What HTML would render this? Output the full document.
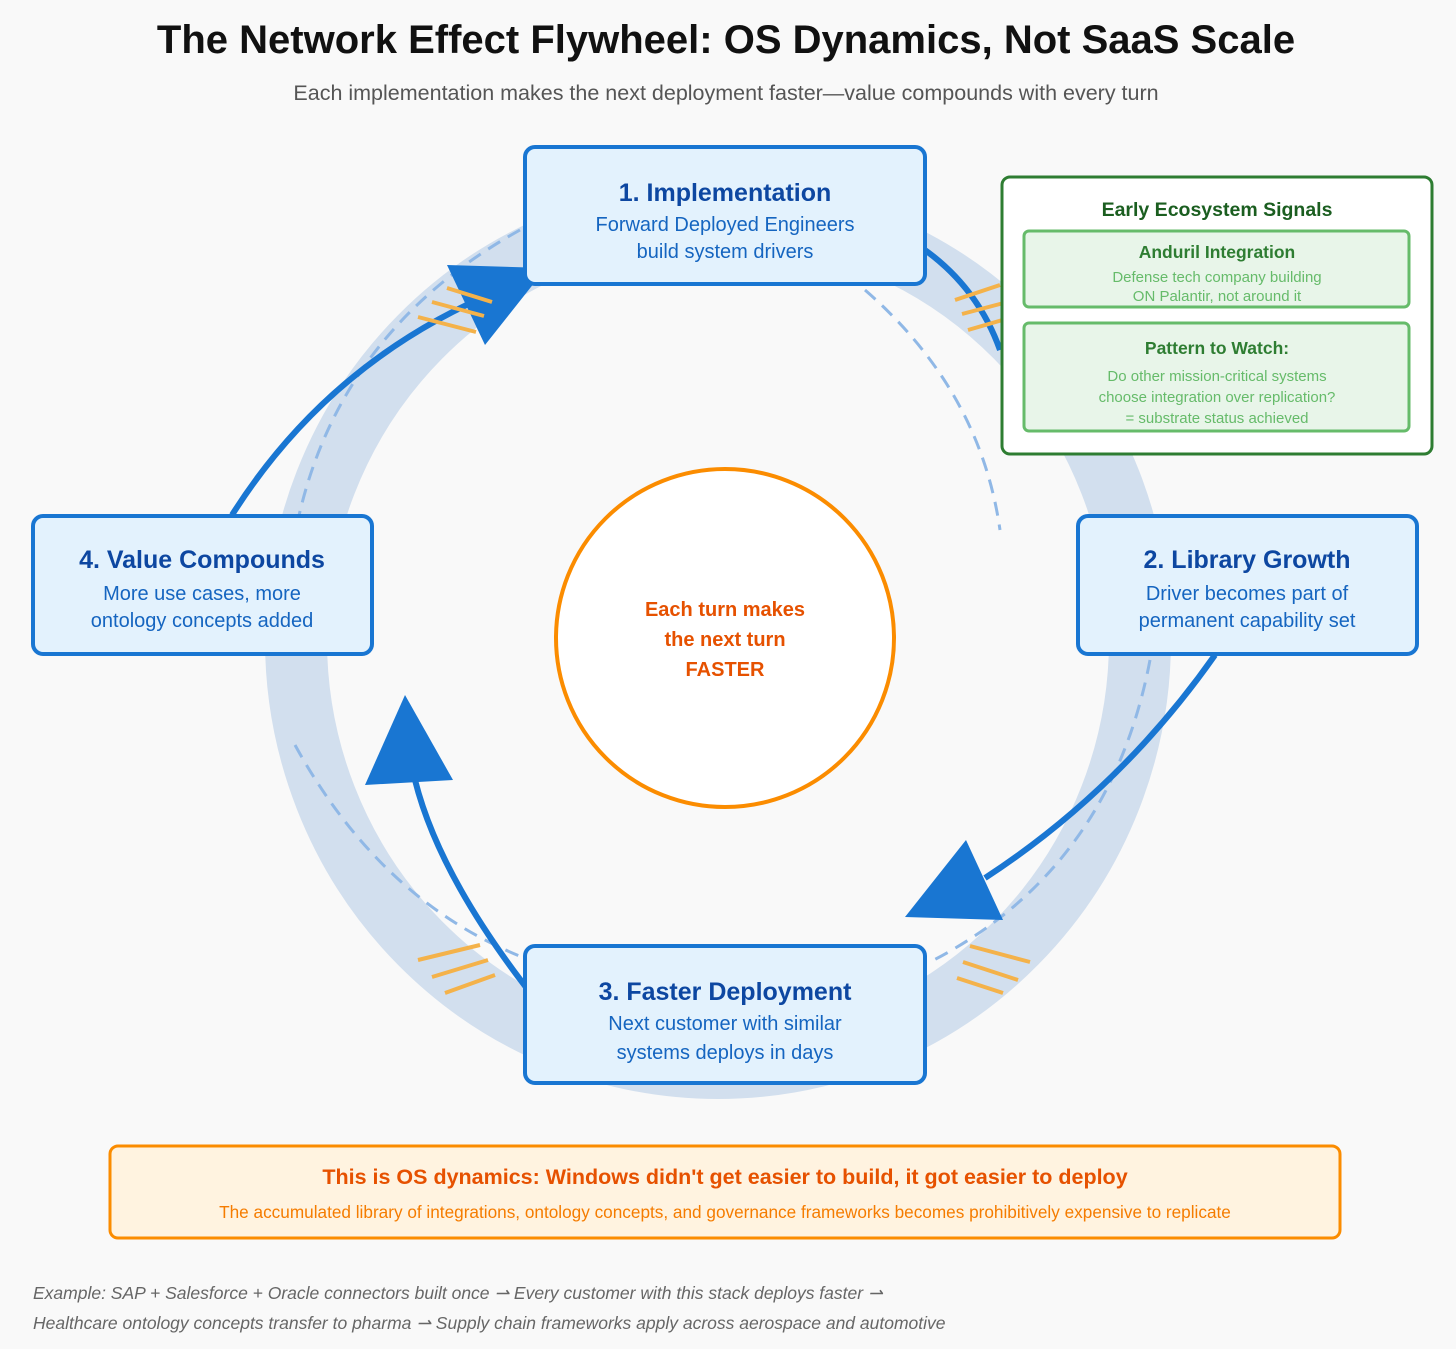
<!DOCTYPE html>
<html><head><meta charset="utf-8"><style>
html,body{margin:0;padding:0;background:#f9f9f9;}
svg{display:block;}
text{font-family:"Liberation Sans",sans-serif;}
</style></head><body>
<svg width="1456" height="1349" viewBox="0 0 1456 1349" xmlns="http://www.w3.org/2000/svg">
<rect width="1456" height="1349" fill="#f9f9f9"/>
<text x="726" y="53" text-anchor="middle" font-size="40" font-weight="bold" fill="#111">The Network Effect Flywheel: OS Dynamics, Not SaaS Scale</text>
<text x="726" y="100" text-anchor="middle" font-size="21.5" fill="#555">Each implementation makes the next deployment faster—value compounds with every turn</text>

<!-- ring -->
<ellipse cx="718" cy="640" rx="422" ry="428" fill="none" stroke="#d2dfee" stroke-width="62"/>

<!-- dashed arcs -->
<g fill="none" stroke="#90b8e6" stroke-width="3" stroke-dasharray="14,9">
<path d="M520 230 Q340 330 298 520"/>
<path d="M865 290 Q980 390 1000 530"/>
<path d="M1150 660 Q1110 870 930 962"/>
<path d="M295 745 Q380 900 522 957"/>
</g>

<!-- arrows -->
<g fill="none" stroke="#1976d2" stroke-width="6">
<path d="M232 515 Q330 360 500 290"/>
<path d="M910 240 Q975 280 1000 350"/>
<path d="M1215 655 Q1120 790 985 878"/>
<path d="M540 1005 Q440 880 415 780"/>
</g>
<g fill="#1976d2">
<polygon points="447,265 546,268 485,345"/>
<polygon points="905,917 966,840 1003,920"/>
<polygon points="365,785 405,695 453,780"/>
</g>

<!-- orange hashes -->
<g stroke="#f4b24a" stroke-width="4">
<line x1="447" y1="288" x2="492" y2="302"/><line x1="432" y1="302" x2="484" y2="316"/><line x1="418" y1="317" x2="476" y2="332"/>
<line x1="955" y1="300" x2="1000" y2="285"/><line x1="962" y1="314" x2="1015" y2="300"/><line x1="968" y1="330" x2="1030" y2="312"/>
<line x1="418" y1="960" x2="480" y2="945"/><line x1="432" y1="977" x2="488" y2="960"/><line x1="445" y1="993" x2="495" y2="975"/>
<line x1="970" y1="946" x2="1030" y2="962"/><line x1="963" y1="962" x2="1018" y2="980"/><line x1="957" y1="978" x2="1003" y2="993"/>
</g>

<!-- center circle -->
<circle cx="725" cy="638" r="169" fill="#fff" stroke="#fb8c00" stroke-width="4"/>
<g text-anchor="middle" font-size="20" font-weight="bold" fill="#e65100">
<text x="725" y="616">Each turn makes</text>
<text x="725" y="646">the next turn</text>
<text x="725" y="676">FASTER</text>
</g>

<!-- nodes -->
<g fill="#e3f2fd" stroke="#1976d2" stroke-width="4">
<rect x="525" y="147" width="400" height="137" rx="10"/>
<rect x="1078" y="516" width="339" height="138" rx="10"/>
<rect x="525" y="946" width="400" height="137" rx="10"/>
<rect x="33" y="516" width="339" height="138" rx="10"/>
</g>
<g text-anchor="middle">
<text x="725" y="201" font-size="25" font-weight="bold" fill="#0d47a1">1. Implementation</text>
<text x="725" y="231" font-size="20" fill="#1565c0">Forward Deployed Engineers</text>
<text x="725" y="258" font-size="20" fill="#1565c0">build system drivers</text>
<text x="1247" y="568" font-size="25" font-weight="bold" fill="#0d47a1">2. Library Growth</text>
<text x="1247" y="600" font-size="20" fill="#1565c0">Driver becomes part of</text>
<text x="1247" y="627" font-size="20" fill="#1565c0">permanent capability set</text>
<text x="725" y="1000" font-size="25" font-weight="bold" fill="#0d47a1">3. Faster Deployment</text>
<text x="725" y="1030" font-size="20" fill="#1565c0">Next customer with similar</text>
<text x="725" y="1059" font-size="20" fill="#1565c0">systems deploys in days</text>
<text x="202" y="568" font-size="25" font-weight="bold" fill="#0d47a1">4. Value Compounds</text>
<text x="202" y="600" font-size="20" fill="#1565c0">More use cases, more</text>
<text x="202" y="627" font-size="20" fill="#1565c0">ontology concepts added</text>
</g>

<!-- ecosystem box -->
<rect x="1002" y="177" width="430" height="277" rx="8" fill="#fff" stroke="#2e7d32" stroke-width="3"/>
<text x="1217" y="216" text-anchor="middle" font-size="19.5" font-weight="bold" fill="#1b5e20">Early Ecosystem Signals</text>
<rect x="1024" y="231" width="385" height="76" rx="5" fill="#e8f5e9" stroke="#66bb6a" stroke-width="3"/>
<text x="1217" y="258" text-anchor="middle" font-size="17.5" font-weight="bold" fill="#2e7d32">Anduril Integration</text>
<text x="1217" y="282" text-anchor="middle" font-size="15" fill="#66bb6a">Defense tech company building</text>
<text x="1217" y="301" text-anchor="middle" font-size="15" fill="#66bb6a">ON Palantir, not around it</text>
<rect x="1024" y="323" width="385" height="108" rx="5" fill="#e8f5e9" stroke="#66bb6a" stroke-width="3"/>
<text x="1217" y="354" text-anchor="middle" font-size="17.5" font-weight="bold" fill="#2e7d32">Pattern to Watch:</text>
<text x="1217" y="381" text-anchor="middle" font-size="15" fill="#66bb6a">Do other mission-critical systems</text>
<text x="1217" y="402" text-anchor="middle" font-size="15" fill="#66bb6a">choose integration over replication?</text>
<text x="1217" y="423" text-anchor="middle" font-size="15" fill="#66bb6a">= substrate status achieved</text>

<!-- bottom box -->
<rect x="110" y="1146" width="1230" height="92" rx="8" fill="#fff3e0" stroke="#fb8c00" stroke-width="3"/>
<text x="725" y="1184" text-anchor="middle" font-size="21.5" font-weight="bold" fill="#e65100">This is OS dynamics: Windows didn't get easier to build, it got easier to deploy</text>
<text x="725" y="1218" text-anchor="middle" font-size="17.2" fill="#f57c00">The accumulated library of integrations, ontology concepts, and governance frameworks becomes prohibitively expensive to replicate</text>

<text x="33" y="1299" font-size="17.5" font-style="italic" fill="#666">Example: SAP + Salesforce + Oracle connectors built once ⇀ Every customer with this stack deploys faster ⇀</text>
<text x="33" y="1329" font-size="17.5" font-style="italic" fill="#666">Healthcare ontology concepts transfer to pharma ⇀ Supply chain frameworks apply across aerospace and automotive</text>
</svg>
</body></html>
